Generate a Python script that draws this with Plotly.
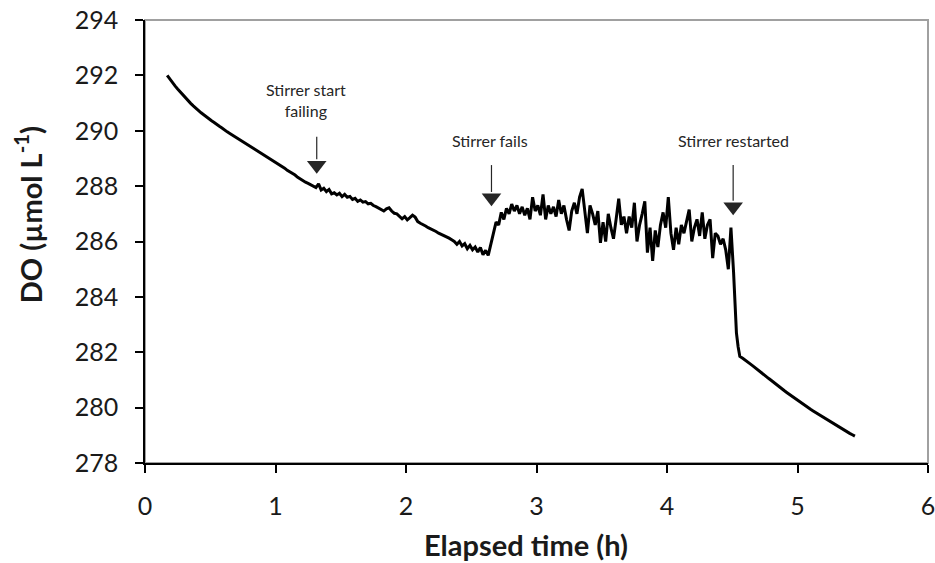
import numpy as np
import plotly.graph_objects as go

# ---- data (DO in umol/L, time in h) ----
seg1_range = (0.17, 1.29)
seg1_do = [292.00, 291.86, 291.74, 291.62, 291.51, 291.40, 291.29, 291.19, 291.09, 290.99,
           290.90, 290.81, 290.73, 290.65, 290.58, 290.50, 290.43, 290.36, 290.30, 290.22,
           290.16, 290.10, 290.02, 289.96, 289.90, 289.84, 289.78, 289.72, 289.67, 289.62,
           289.55, 289.50, 289.44, 289.39, 289.32, 289.27, 289.21, 289.15, 289.09, 289.02,
           288.96, 288.90, 288.83, 288.78, 288.70, 288.65, 288.57, 288.52, 288.44, 288.40,
           288.32, 288.25, 288.21, 288.14, 288.10, 288.04, 288.01]

seg2_range = (1.31, 2.63)
seg2_do = [287.95, 288.08, 287.86, 287.92, 287.80, 287.88, 287.72, 287.76, 287.68, 287.74,
           287.62, 287.70, 287.60, 287.63, 287.52, 287.56, 287.45, 287.50, 287.42, 287.44,
           287.36, 287.38, 287.30, 287.26, 287.20, 287.16, 287.10, 287.18, 287.22, 287.10,
           287.02, 287.00, 286.92, 286.82, 286.90, 286.78, 286.86, 286.95, 286.88, 286.72,
           286.66, 286.62, 286.56, 286.50, 286.46, 286.42, 286.36, 286.30, 286.26, 286.22,
           286.16, 286.12, 286.06, 286.00, 285.90, 286.00, 285.84, 285.92, 285.74, 285.86,
           285.70, 285.80, 285.62, 285.78, 285.52, 285.68, 285.50]

seg3_range = (2.65, 4.51)
seg3_do = [285.90, 286.30, 286.70, 286.60, 287.05, 286.80, 287.20, 287.00, 287.35, 287.10,
           287.30, 287.00, 287.25, 286.95, 287.20, 286.80, 287.60, 287.10, 287.30, 286.95,
           287.70, 286.80, 287.30, 287.00, 287.25, 286.90, 287.50, 287.00, 287.30, 286.80,
           286.40, 287.10, 287.40, 287.00, 287.60, 287.90, 287.20, 286.30, 287.30, 287.00,
           286.60, 287.10, 285.95, 286.70, 286.00, 287.00, 286.50, 286.10, 286.80, 287.55,
           286.60, 286.90, 286.30, 286.90, 286.50, 287.40, 286.00, 286.60, 287.00, 287.45,
           285.60, 286.50, 285.30, 286.40, 285.80, 286.60, 287.05, 286.50, 287.60, 286.30,
           285.70, 286.50, 285.90, 286.60, 286.30, 286.70, 287.15, 286.00, 286.50, 286.80,
           286.20, 287.05, 286.10, 286.60, 286.80, 285.40, 286.30, 286.20, 285.90, 286.10,
           285.70, 285.00, 286.50, 284.90]

drop_time = [4.522, 4.532, 4.545, 4.558]
drop_do = [283.30, 282.70, 282.20, 281.85]

seg4_range = (4.58, 5.44)
seg4_do = [281.78, 281.72, 281.64, 281.57, 281.50, 281.42, 281.35, 281.27, 281.20, 281.12,
           281.05, 280.98, 280.90, 280.83, 280.76, 280.68, 280.61, 280.54, 280.47, 280.40,
           280.33, 280.26, 280.20, 280.13, 280.07, 280.01, 279.94, 279.88, 279.82, 279.76,
           279.70, 279.64, 279.58, 279.52, 279.46, 279.40, 279.35, 279.29, 279.24, 279.18,
           279.13, 279.07, 279.02, 278.97]

x_ticks = [0, 1, 2, 3, 4, 5, 6]
y_ticks = [278, 280, 282, 284, 286, 288, 290, 292, 294]

# annotations: label, text position (x, y), arrow x, arrow tail y, arrow tip y
ann_labels = ["Stirrer start<br>failing", "Stirrer fails", "Stirrer restarted"]
ann_text_x = [1.23, 2.64, 4.51]
ann_text_y = [291.1, 289.63, 289.63]
arrow_x = [1.316, 2.655, 4.507]
arrow_tail_y = [289.78, 288.76, 288.76]
arrow_tip_y = [288.5, 287.32, 287.0]

# ---- build series ----
def seg(rng, vals):
    return list(np.linspace(rng[0], rng[1], len(vals))), list(vals)

t, v = [], []
for rng, vals in [(seg1_range, seg1_do), (seg2_range, seg2_do), (seg3_range, seg3_do)]:
    tt, vv = seg(rng, vals)
    t += tt; v += vv
t += drop_time; v += drop_do
tt, vv = seg(seg4_range, seg4_do)
t += tt; v += vv

fig = go.Figure()
fig.add_trace(go.Scatter(x=t, y=v, mode="lines",
                         line=dict(color="black", width=3), showlegend=False,
                         hoverinfo="skip"))

# arrows: shaft + triangular head
y_per_px = 16 / 443.0
head_h = 13
for ax_, y0, y1 in zip(arrow_x, arrow_tail_y, arrow_tip_y):
    fig.add_trace(go.Scatter(x=[ax_, ax_], y=[y0, y1 + head_h * y_per_px], mode="lines",
                             line=dict(color="#262626", width=1.2), showlegend=False,
                             hoverinfo="skip"))
    fig.add_trace(go.Scatter(x=[ax_], y=[y1 + 0.55 * head_h * y_per_px], mode="markers",
                             marker=dict(symbol="triangle-down", size=17, color="#262626",
                                         line=dict(width=0)),
                             showlegend=False, hoverinfo="skip"))

ann_font = dict(family="Lato, sans-serif", size=16, color="#262626")
for lab, tx, ty in zip(ann_labels, ann_text_x, ann_text_y):
    fig.add_annotation(x=tx, y=ty, text=lab, showarrow=False, font=ann_font, align="center")

fig.add_shape(type="rect", xref="paper", yref="paper", x0=0, x1=1, y0=0, y1=1,
              line=dict(color="#a0a0a0", width=2), layer="below")

tick_font = dict(family="Lato, sans-serif", size=25, color="#1a1a1a")
title_font = dict(family="Lato, sans-serif", size=29, color="#1a1a1a")

# axis titles (placed as paper annotations to match the reference placement)
fig.add_annotation(xref="paper", yref="paper", x=-0.149, y=0.56, textangle=-90,
                   text="<b>DO (µmol L<sup>-1</sup>)</b>", showarrow=False,
                   font=title_font, xanchor="center", yanchor="middle")
fig.add_annotation(xref="paper", yref="paper", x=0.487, y=-0.185,
                   text="<b>Elapsed time (h)</b>", showarrow=False,
                   font=title_font, xanchor="center", yanchor="middle")

fig.update_layout(
    width=935, height=563,
    margin=dict(l=145, r=7, t=20, b=100),
    paper_bgcolor="white", plot_bgcolor="white",
    xaxis=dict(range=[0, 6], tickvals=x_ticks, showgrid=False, zeroline=False,
               showline=True, linecolor="black", linewidth=1.5, automargin=False,
               ticks="outside", ticklen=8, tickwidth=1.5, tickcolor="black",
               tickfont=tick_font, ticklabelstandoff=12, ticklabeloverflow="allow"),
    yaxis=dict(range=[278, 294], tickvals=y_ticks, showgrid=False, zeroline=False,
               showline=True, linecolor="black", linewidth=1.5, automargin=False,
               ticks="outside", ticklen=8, tickwidth=1.5, tickcolor="black",
               tickfont=tick_font, ticklabelstandoff=12, ticklabeloverflow="allow"),
)

fig.write_html("out.html")
